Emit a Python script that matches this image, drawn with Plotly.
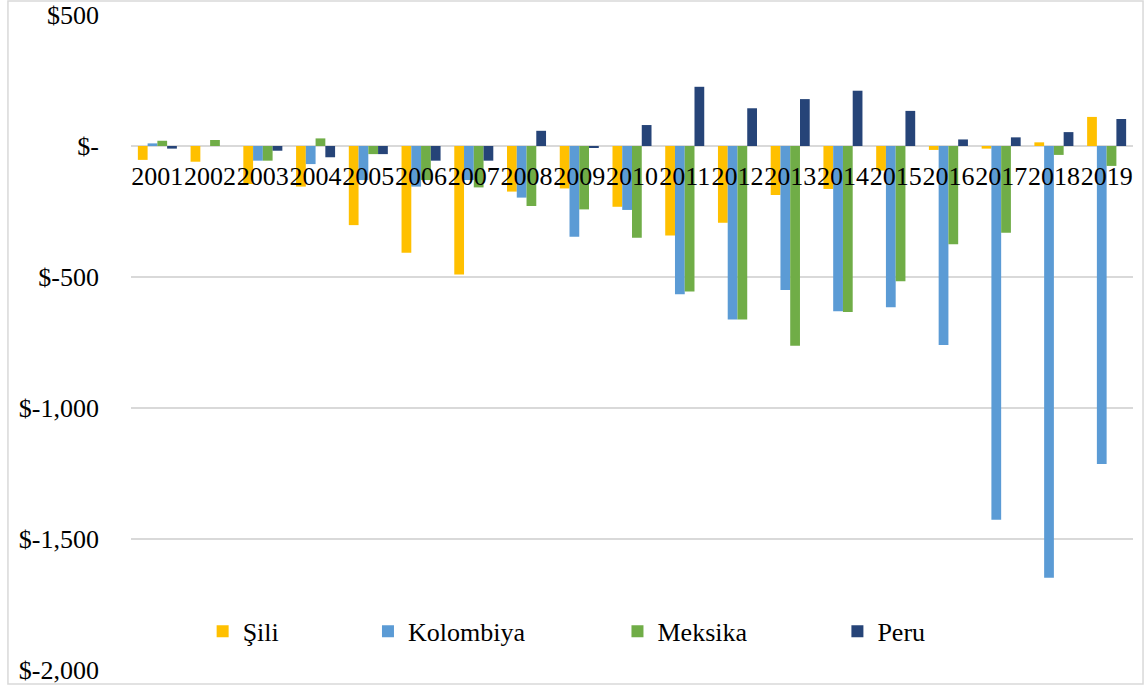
import plotly.graph_objects as go

# Annual balances (USD) per country, 2001-2019
years = [str(y) for y in range(2001, 2020)]

sili = [-53, -60, -145, -155, -302, -407, -490, -174, -162, -232,
        -342, -293, -187, -164, -94, -15, -10, 14, 111]
kolombiya = [10, 0, -56, -69, -130, -155, -130, -197, -346, -244,
             -566, -662, -550, -631, -615, -760, -1427, -1648, -1214]
meksika = [20, 23, -56, 29, -31, -130, -158, -229, -242, -350,
           -555, -662, -762, -634, -516, -375, -331, -34, -76]
peru = [-10, 0, -18, -43, -31, -56, -56, 58, -6, 80,
        226, 144, 179, 211, 134, 25, 33, 53, 103]

series_names = ["Şili", "Kolombiya", "Meksika", "Peru"]
series_values = [sili, kolombiya, meksika, peru]
series_colors = ["#FFC000", "#5B9BD5", "#70AD47", "#264478"]

y_tick_vals = [500, 0, -500, -1000, -1500, -2000]
y_tick_text = ["$500", "$-", "$-500", "$-1,000", "$-1,500", "$-2,000"]

FONT = "Liberation Serif"
TEXT_FONT = dict(family=FONT, size=26, color="#000000")

fig = go.Figure()
legend_ids = ["legend", "legend2", "legend3", "legend4"]
for name, vals, color, lg in zip(series_names, series_values, series_colors, legend_ids):
    fig.add_trace(go.Bar(
        x=years, y=vals, name=name,
        marker=dict(color=color, line=dict(width=0)),
        legend=lg,
    ))

# one single-entry legend per series, spread along the bottom of the plot
legend_x = [0.0715, 0.2365, 0.4855, 0.7050]
layout_legends = {}
for lg, lx in zip(legend_ids, legend_x):
    layout_legends[lg] = dict(
        orientation="h", yanchor="middle", y=0.059, xanchor="left", x=lx,
        bgcolor="rgba(0,0,0,0)", borderwidth=0, font=TEXT_FONT,
    )

fig.update_layout(
    template="none",
    width=1148, height=688, autosize=False,
    margin=dict(l=131, r=15, t=15, b=18, autoexpand=False),
    paper_bgcolor="#ffffff", plot_bgcolor="#ffffff",
    barmode="group", bargap=0.26, bargroupgap=0,
    font=TEXT_FONT,
    showlegend=True,
    **layout_legends,
)

fig.update_yaxes(
    range=[-2000, 500], automargin=False,
    tickvals=y_tick_vals, ticktext=y_tick_text,
    showgrid=True, gridcolor="#d9d9d9", gridwidth=1.5,
    zeroline=True, zerolinecolor="#d9d9d9", zerolinewidth=1.5,
    showline=False, ticks="",
    ticklabelstandoff=31,
    tickfont=TEXT_FONT,
)

# category axis sits on the zero line
fig.update_xaxes(
    type="category", automargin=False,
    anchor="free", position=0.8,
    showline=False, showgrid=False, ticks="",
    tickangle=0,
    ticklabelstandoff=12,
    tickfont=TEXT_FONT,
)

# light frame around the whole chart
fig.add_shape(
    type="rect", xref="paper", yref="paper",
    x0=-0.1228, x1=1.0100, y0=-0.0214, y1=1.0214,
    line=dict(color="#d9d9d9", width=1.5), fillcolor="rgba(0,0,0,0)",
    layer="below",
)

fig.write_html("out.html")
